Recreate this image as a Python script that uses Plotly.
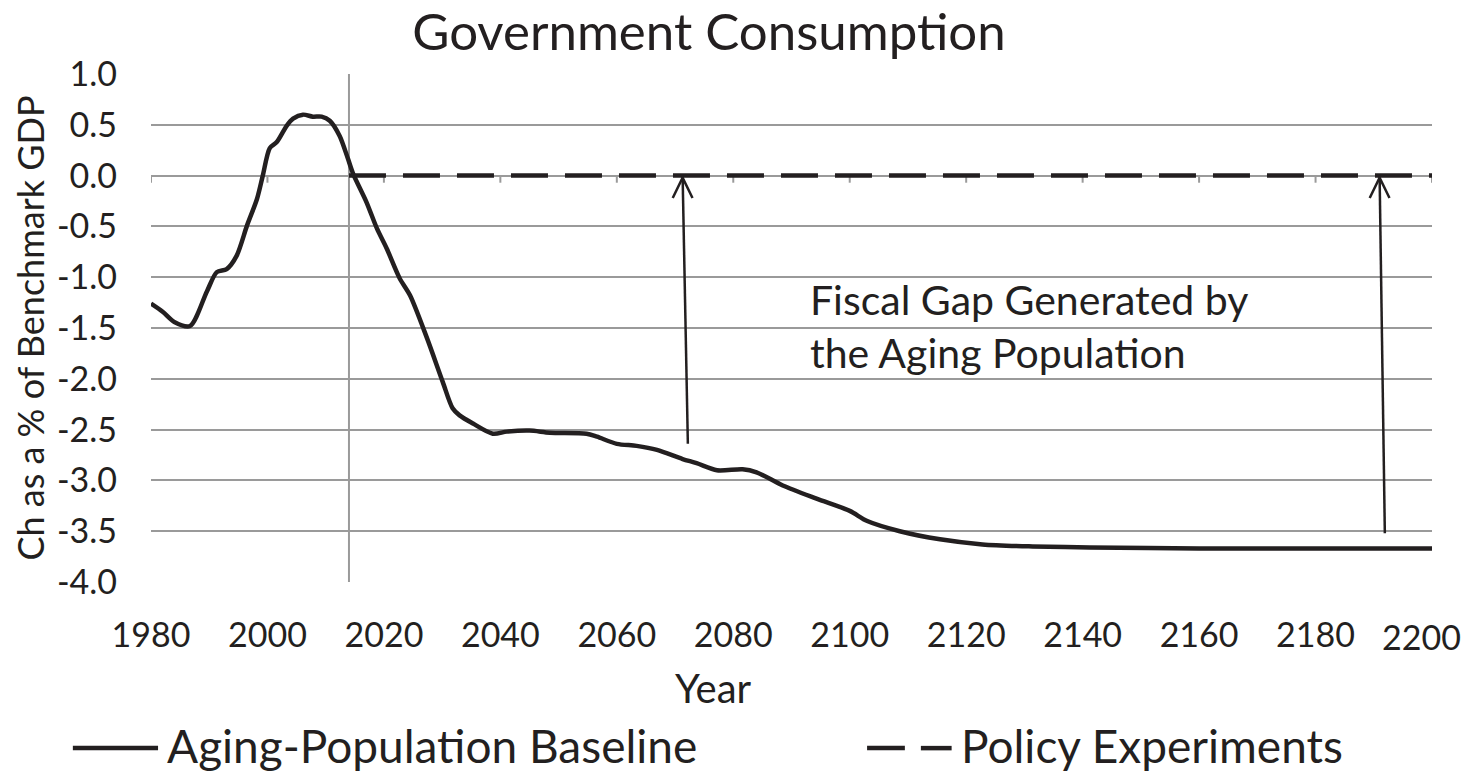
import plotly.graph_objects as go

# ---- data ----
years = [1980, 1982, 1984, 1986.7, 1989.6, 1991.3, 1993, 1994.7, 1996.5, 1998.2, 1999.2,
         2000.4, 2001.6, 2003.3, 2004.4, 2006.1, 2007.8, 2009.3, 2010.7, 2012.4, 2013.8,
         2014.7, 2017, 2018.8, 2020.5, 2022.7, 2024.5, 2027.4, 2030.1, 2031.8, 2033,
         2035.3, 2038.7, 2041.1, 2045, 2048.5, 2054.8, 2056.6, 2060, 2063.4, 2066.9,
         2071.3, 2073.7, 2077.2, 2081.6, 2084, 2088.5, 2094.3, 2100, 2103, 2108.6,
         2115.5, 2122.8, 2131.4, 2141.2, 2160, 2180, 2200]
baseline = [-1.26, -1.34, -1.44, -1.48, -1.14, -0.95, -0.92, -0.79, -0.49, -0.23, 0.0,
            0.27, 0.33, 0.49, 0.56, 0.60, 0.58, 0.58, 0.54, 0.39, 0.17,
            0.02, -0.26, -0.52, -0.72, -1.01, -1.18, -1.60, -2.03, -2.29, -2.36,
            -2.44, -2.54, -2.52, -2.51, -2.53, -2.54, -2.57, -2.64, -2.66, -2.70,
            -2.79, -2.83, -2.90, -2.89, -2.92, -3.05, -3.18, -3.30, -3.40, -3.50,
            -3.58, -3.63, -3.65, -3.66, -3.67, -3.67, -3.67]
policy_years = [2014, 2200]
policy_values = [0.0, 0.0]
start_year = 2014
x_ticks = [1980, 2000, 2020, 2040, 2060, 2080, 2100, 2120, 2140, 2160, 2180, 2200]
x_labels = [str(t) for t in x_ticks]
y_ticks = [1.0, 0.5, 0.0, -0.5, -1.0, -1.5, -2.0, -2.5, -3.0, -3.5, -4.0]
# arrows: (tip year, tail year, tail value)
arrows = [(2071.3, 2072.2, -2.64), (2191.0, 2191.9, -3.52)]
series_names = ["Aging-Population Baseline", "Policy Experiments"]

FONT = "Lato, Carlito, 'Open Sans', sans-serif"
GRID = "#9a9a9a"
INK = "#231f20"
DASH = "37px,17px"

fig = go.Figure()
fig.add_trace(go.Scatter(x=years, y=baseline, mode="lines", name=series_names[0], showlegend=False,
                         line=dict(color=INK, width=4.5, shape="spline", smoothing=0.8)))
fig.add_trace(go.Scatter(x=policy_years, y=policy_values, mode="lines", name=series_names[1],
                         showlegend=False, line=dict(color=INK, width=4.5, dash=DASH)))

shapes = []
# vertical line at start year
shapes.append(dict(type="line", xref="x", yref="y", x0=start_year, x1=start_year, y0=-4, y1=1,
                   line=dict(color=GRID, width=2), layer="below"))
# tick marks along zero line
for t in x_ticks:
    shapes.append(dict(type="line", xref="x", yref="y", x0=t, x1=t, y0=0, y1=-0.07,
                       line=dict(color=GRID, width=2), layer="below"))
# arrows
for tip_x, tail_x, tail_y in arrows:
    shapes.append(dict(type="line", xref="x", yref="y", x0=tail_x, x1=tip_x, y0=tail_y, y1=0,
                       line=dict(color=INK, width=2.5)))
    shapes.append(dict(type="path", xref="x", yref="y",
                       path=f"M {tip_x-1.7} {-0.22} L {tip_x} {-0.02} L {tip_x+1.7} {-0.22}",
                       line=dict(color=INK, width=2.5)))

# manual legend (paper coords relative to the plot area)
LEG_Y = -0.327
LEG_TEXT_Y = -0.321
shapes.append(dict(type="line", xref="paper", yref="paper", x0=-0.061, x1=0.0055, y0=LEG_Y, y1=LEG_Y,
                   line=dict(color=INK, width=4.5)))
shapes.append(dict(type="line", xref="paper", yref="paper", x0=0.559, x1=0.5885, y0=LEG_Y, y1=LEG_Y,
                   line=dict(color=INK, width=4.5)))
shapes.append(dict(type="line", xref="paper", yref="paper", x0=0.601, x1=0.625, y0=LEG_Y, y1=LEG_Y,
                   line=dict(color=INK, width=4.5)))

TICK_FONT = dict(size=34, family=FONT, color=INK)
annotations = [
    dict(text="Fiscal Gap Generated by<br>the Aging Population", xref="x", yref="y",
         x=2092.8, y=-0.96, xanchor="left", yanchor="top", align="left", showarrow=False,
         font=dict(size=41, family=FONT, color=INK)),
    dict(text="Year", xref="paper", yref="paper", x=0.4395, y=-0.209, xanchor="center",
         yanchor="middle", showarrow=False, font=dict(size=40, family=FONT, color=INK)),
    dict(text=series_names[0], xref="paper", yref="paper", x=0.0109, y=LEG_TEXT_Y, xanchor="left",
         yanchor="middle", showarrow=False, font=dict(size=46, family=FONT, color=INK)),
    dict(text=series_names[1], xref="paper", yref="paper", x=0.631, y=LEG_TEXT_Y, xanchor="left",
         yanchor="middle", showarrow=False, font=dict(size=46, family=FONT, color=INK)),
    # last x tick label kept inside the page edge
    dict(text=x_labels[-1], xref="x", yref="paper", x=x_ticks[-1], y=-0.1065, xanchor="right",
         yanchor="middle", xshift=31, showarrow=False, font=TICK_FONT),
]

fig.update_layout(
    width=1472, height=772,
    paper_bgcolor="white", plot_bgcolor="white",
    margin=dict(l=143, r=48, t=66, b=198),
    font=dict(family=FONT, color=INK),
    showlegend=False,
    title=dict(text="Government Consumption", x=0.4762, xanchor="center", y=0.969, yanchor="middle",
               font=dict(size=51, family=FONT, color=INK)),
    xaxis=dict(range=[1980, 2200], tickvals=x_ticks[:-1], ticktext=x_labels[:-1],
               showgrid=False, zeroline=False, showline=False,
               ticks="", tickfont=TICK_FONT, ticklabelstandoff=30, automargin=False),
    yaxis=dict(range=[-4, 1], tickvals=y_ticks, ticktext=[f"{v:.1f}" for v in y_ticks],
               showgrid=True, gridcolor=GRID, gridwidth=2, zeroline=False, showline=False,
               ticks="", tickfont=TICK_FONT, ticklabelstandoff=33,
               automargin=False,
               title=dict(text="Ch as a % of Benchmark GDP", font=dict(size=36, family=FONT, color=INK),
                          standoff=22)),
    shapes=shapes,
    annotations=annotations,
)

fig.write_html("out.html")
